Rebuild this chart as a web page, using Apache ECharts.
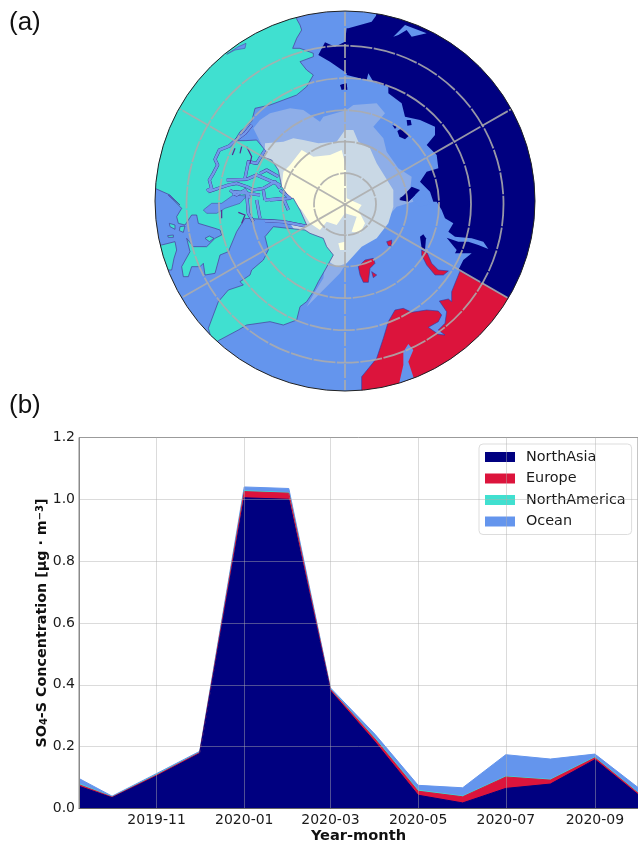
<!DOCTYPE html>
<html><head><meta charset="utf-8">
<style>html,body{margin:0;padding:0;background:#fff}#c{width:638px;height:842px}</style>
<script src="https://cdn.jsdelivr.net/npm/echarts@6/dist/echarts.min.js"></script>
</head><body><div id="c"></div>
<script>
// ---------- panel (b) data ----------
const dates = ['2019-09-08','2019-10-01','2019-11-01','2019-12-01','2020-01-01','2020-02-01','2020-03-01','2020-04-01','2020-05-01','2020-06-01','2020-07-01','2020-08-01','2020-09-01','2020-10-01'];
const northAsiaValues    = [0.072,0.035,0.105,0.178,1.005,1.000,0.380,0.215,0.043,0.018,0.065,0.079,0.158,0.045];
const europeValues       = [0.005,0.002,0.003,0.003,0.020,0.020,0.005,0.010,0.013,0.020,0.037,0.013,0.006,0.005];
const northAmericaValues = [0.003,0.001,0.002,0.001,0.003,0.002,0.001,0.003,0.003,0.002,0.002,0.002,0.002,0.002];
const oceanValues        = [0.017,0.002,0.003,0.003,0.012,0.013,0.004,0.012,0.016,0.027,0.070,0.066,0.010,0.016];
const monthTicks = ['2019-11-01','2020-01-01','2020-03-01','2020-05-01','2020-07-01','2020-09-01'];
const colors = {NorthAsia:'#000080',Europe:'#DC143C',NorthAmerica:'#40E0D0',Ocean:'#6495ED'};
const toMs = d=>Date.UTC(+d.slice(0,4),+d.slice(5,7)-1,+d.slice(8,10));

// ---------- panel (a) outlines, traced in reference units ----------
const tile = (ox,oy,pts)=>pts.map(([x,y])=>[ox+x/3,oy+y/3]);
const iceOuter = [[...tile(150,5,[[310,370],[330,345],[360,325],[420,310],[460,315],[510,350],[520,335],[590,315]]),
  ...tile(340,5,[[40,300],[110,295],[135,325],[100,365],[130,400],[140,440],[175,490],[215,515],[210,560],[220,590]]),
  ...tile(340,195,[[170,35],[130,80],[85,130],[40,170],[0,235]]),
  ...tile(150,195,[[470,335],[495,290],[520,250],[525,210],[450,100]]),
  ...tile(150,5,[[350,450]])]];
const iceMiddle = [tile(230,100,[[105,130],[160,125],[190,115],[220,120],[265,130],[320,125],[345,90],[370,90],[385,125],[420,145],[440,190],[490,270],[490,320],[475,370],[440,415],[395,440],[350,490],[320,500],[290,480],[200,400],[100,250]])];
const iceInner = [tile(230,100,[[160,215],[180,195],[215,150],[250,170],[300,165],[335,150],[348,200],[350,295],[395,315],[385,330],[405,370],[390,400],[365,395],[380,350],[345,340],[320,375],[290,365],[270,390],[240,370],[215,330],[170,290],[155,260]]),
  tile(230,100,[[325,430],[345,425],[345,450],[330,450]])];
const northAmericaLand = [[
  ...tile(150,5,[[440,-40],[440,42],[450,60],[455,75],[440,100],[428,130],[450,130],[490,145],[490,155],[450,170],[470,195],[490,210],[470,245],[440,270],[400,285],[360,300],[315,310],[305,350],[270,380],[255,405]]),
  ...tile(150,120,[[255,62],[285,62],[320,60],[345,90],[335,110],[365,120],[385,150],[395,200],[420,235]]),
  ...tile(150,190,[[430,25],[450,60],[470,105],[400,93],[345,88]]),
  ...tile(150,195,[[285,70],[260,110],[235,170],[210,180],[195,235],[165,240],[160,205],[150,215],[125,215],[115,245],[100,245],[95,215],[120,170],[110,130],[130,155],[170,155],[195,130],[215,120],[210,105],[195,100],[145,85],[140,60],[125,60],[105,90],[85,85],[80,65],[95,40],[55,0]]),
  ...tile(150,5,[[90,600],[60,570],[15,550],[-60,500],[-60,-40]])],
  tile(150,195,[[-30,150],[35,150],[75,140],[80,165],[72,190],[65,225],[55,225],[20,260]]),
  tile(150,190,[[58,100],[75,105],[75,118],[60,110]]),
  tile(150,190,[[53,137],[70,135],[70,142],[55,142]]),
  tile(150,190,[[90,110],[105,108],[100,127],[88,122]]),
  tile(150,190,[[165,145],[178,138],[192,145],[178,155]]),
  tile(150,195,[[175,400],[205,320],[235,285],[280,270],[270,260],[300,240],[305,225],[340,195],[355,165],[345,125],[370,95],[415,100],[465,105],[480,115],[520,130],[530,155],[550,180],[525,225],[505,260],[490,290],[470,320],[450,335],[440,375],[400,390],[360,380],[290,390],[265,405],[205,437],[190,450]])
];
const waterInLand = [
  tile(150,5,[[230,148],[265,125],[288,115],[285,130],[255,135]]),
  tile(150,190,[[160,60],[185,40],[215,40],[250,15],[290,18],[270,40],[225,55],[200,70],[170,70]])
];
const channels = [
  tile(150,120,[[305,15],[285,40],[255,62],[238,78],[208,90],[195,118],[203,135],[190,160],[178,180],[185,205],[170,212]]),
  tile(150,120,[[345,90],[320,130],[295,125],[290,150],[285,175]]),
  tile(150,120,[[230,180],[290,178],[320,165],[390,195]]),
  tile(150,120,[[175,215],[235,195],[260,190],[290,200],[310,210],[340,205],[375,185],[390,205]]),
  tile(150,120,[[240,210],[260,225],[285,210],[300,235]]),
  tile(150,120,[[330,160],[350,150],[385,170]]),
  tile(150,120,[[340,210],[345,240]]),
  tile(150,120,[[390,210],[420,235],[360,240]]),
  tile(150,190,[[290,10],[295,70],[310,95]]),
  tile(150,190,[[320,30],[330,85]]),
  tile(150,190,[[345,92],[400,95],[465,108]]),
  tile(150,190,[[345,30],[400,25],[415,60]]),
  tile(150,190,[[250,15],[255,5],[330,15]])
];
const inletLines = [
  tile(150,120,[[275,80],[270,100]]),
  tile(150,120,[[255,85],[247,105]]),
  tile(150,120,[[290,80],[305,110],[300,130]]),
  tile(150,190,[[265,67],[285,75],[275,100]]),
  tile(150,190,[[215,60],[215,85]])
];
const northAsiaLand = [[
  ...tile(340,5,[[120,-40],[108,32],[95,50],[60,60],[25,70]]),
  ...tile(150,5,[[590,70],[585,110],[555,125],[525,112],[505,150],[540,170],[590,205]]),
  ...tile(340,5,[[20,210],[80,225],[85,205],[100,230],[145,245],[145,265],[185,295],[195,335],[240,345],[285,365],[285,390],[260,420],[290,450],[295,490],[260,500],[240,530],[270,560],[280,590]]),
  ...tile(340,195,[[290,20],[305,45],[315,70],[340,85],[325,110],[345,125],[395,130],[430,140],[445,162],[415,150],[385,140],[355,140],[320,128],[350,165],[345,175],[395,175],[370,195],[355,225],[360,228],[505,310],[700,420],[700,-300]])],
  tile(340,5,[[0,240],[18,235],[22,250],[5,255]]),
  tile(150,5,[[572,240],[590,235],[592,255],[578,252]]),
  tile(340,5,[[200,345],[212,345],[215,360],[202,362]]),
  tile(340,5,[[157,360],[170,365],[165,372]]),
  tile(340,5,[[172,378],[185,370],[207,392],[195,403],[178,395]]),
  tile(340,5,[[178,585],[215,545],[240,555],[205,590]]),
  tile(340,195,[[178,10],[195,0],[225,0],[205,20]]),
  tile(340,195,[[240,125],[250,118],[258,130],[255,165],[245,160]])
];
const waterInAsia = [
  tile(340,5,[[160,95],[195,60],[260,85],[215,95],[200,75],[175,90]]),
  tile(340,5,[[225,592],[250,568],[272,598],[240,605]])
];
const europeLand = [
  tile(340,195,[[360,228],[505,310],[700,420],[300,640],[60,640],[65,582],[65,545],[110,490],[130,430],[145,380],[165,345],[190,340],[215,352],[260,345],[295,348],[305,360],[295,380],[265,397],[295,418],[315,420],[295,405],[315,385],[320,350],[298,318],[325,312],[335,320],[335,290],[345,265]]),
  tile(340,195,[[55,215],[75,195],[100,190],[105,205],[90,220],[85,262],[70,262],[60,240]]),
  tile(340,195,[[95,230],[110,240],[100,248]]),
  tile(340,195,[[140,140],[155,135],[155,152],[145,152]]),
  tile(340,195,[[245,165],[262,175],[275,205],[295,225],[325,228],[310,240],[285,240],[260,210],[245,180]])
];
const waterInEurope = [tile(340,195,[[190,470],[205,447],[220,465],[205,500],[225,560],[175,575],[190,510]])];
const pole = [345,204.2];
const ringRadii = [31,62.5,94,126,158.5];
const spokes = [[[345,12],[345,390]],[[pole[0],pole[1]],[511.5,109]],[[pole[0],pole[1]],[508,298]],[[pole[0],pole[1]],[183,297]],[[pole[0],pole[1]],[180,109]]];
const discCentre = [345,201], discRadius = 190;

// ---------- helpers ----------
function discClip(api){
  const c = api.coord(discCentre);
  return {type:'circle',shape:{cx:c[0],cy:c[1],r:api.size([discRadius,0])[0]}};
}
function shapes(items,kind,style){
  return {type:'custom',xAxisIndex:0,yAxisIndex:0,silent:true,animation:false,z:3,
    data:items.map((_,i)=>[i]),
    renderItem(p,api){
      const pts = items[api.value(0)].map(q=>api.coord(q));
      return {type:kind,shape:{points:pts},style:Object.assign({},style),clipPath:discClip(api)};
    }};
}
const gridStroke = 'rgba(172,172,172,0.88)';
const ringsSeries = {type:'custom',xAxisIndex:0,yAxisIndex:0,silent:true,animation:false,z:4,
  data:ringRadii.map((_,i)=>[i]),
  renderItem(p,api){
    const c = api.coord(pole);
    return {type:'circle',shape:{cx:c[0],cy:c[1],r:api.size([ringRadii[api.value(0)],0])[0]},
      style:{fill:'none',stroke:gridStroke,lineWidth:1.8,lineDash:[22,1.5]},clipPath:discClip(api)};
  }};
const spokeSeries = {type:'custom',xAxisIndex:0,yAxisIndex:0,silent:true,animation:false,z:4,
  data:spokes.map((_,i)=>[i]),
  renderItem(p,api){
    const s = spokes[api.value(0)], a = api.coord(s[0]), b = api.coord(s[1]);
    return {type:'line',shape:{x1:a[0],y1:a[1],x2:b[0],y2:b[1]},
      style:{stroke:gridStroke,lineWidth:1.8,lineDash:api.value(0)===0?[14,2]:[30,1.5]},clipPath:discClip(api)};
  }};
const discSeries = edge=>({type:'custom',xAxisIndex:0,yAxisIndex:0,silent:true,animation:false,z:edge?5:2,data:[[0]],
  renderItem(p,api){
    const c = discClip(api);
    return {type:'circle',shape:c.shape,style:edge?{fill:'none',stroke:'#222',lineWidth:1}:{fill:colors.Ocean}};
  }});

// each band is painted from zero up to its running total, top band first
const layers = [['NorthAsia',northAsiaValues],['Europe',europeValues],['NorthAmerica',northAmericaValues],['Ocean',oceanValues]];
const running = dates.map(()=>0);
const areaSeries = layers.map(([name,vals])=>{
  const tops = vals.map((v,i)=>(running[i]+=v));
  return {name,type:'line',xAxisIndex:1,yAxisIndex:1,symbol:'none',animation:false,
    lineStyle:{color:colors[name],width:1},itemStyle:{color:colors[name]},areaStyle:{color:colors[name],opacity:1},
    data:tops.map((v,i)=>[toMs(dates[i]),v]),z:2};
}).reverse();

const tickFont = {fontFamily:'DejaVu Sans',fontSize:14,color:'#1a1a1a'};
const gridLine = {show:true,lineStyle:{color:'rgba(176,176,176,0.45)',width:1}};
const pad = n=>String(n).padStart(2,'0');
const tickMs = monthTicks.map(toMs);
const chart = echarts.init(document.getElementById('c'),null,{renderer:'canvas'});
chart.setOption({
  animation:false,
  backgroundColor:'#fff',
  title:[
    {text:'(a)',left:9,top:10,padding:0,textStyle:{fontFamily:'Liberation Sans',fontSize:26,fontWeight:'normal',color:'#111'}},
    {text:'(b)',left:9,top:393,padding:0,textStyle:{fontFamily:'Liberation Sans',fontSize:26,fontWeight:'normal',color:'#111'}}
  ],
  grid:[
    {left:155,top:12,width:380,height:378,show:false,outerBoundsMode:'none'},
    {left:79,top:437.5,width:559,height:371,show:true,borderColor:'#8a8a8a',borderWidth:1,backgroundColor:'#fff',outerBoundsMode:'none'}
  ],
  legend:{left:479,top:444,orient:'vertical',padding:[6,6,6,6],itemWidth:30,itemHeight:10,itemGap:7.5,
    backgroundColor:'rgba(255,255,255,0.85)',borderColor:'#ddd',borderWidth:1,borderRadius:4,
    textStyle:{fontFamily:'DejaVu Sans',fontSize:14.4,color:'#1a1a1a',padding:[0,0,0,6]},icon:'rect',
    data:layers.map(l=>l[0])},
  xAxis:[
    {gridIndex:0,type:'value',min:155,max:535,show:false},
    {gridIndex:1,type:'value',min:toMs(dates[0]),max:toMs(dates[dates.length-1]),z:6,
      axisLine:{show:true,onZero:false,lineStyle:{color:'#666',width:1}},
      axisTick:{show:false,customValues:tickMs},
      splitLine:Object.assign({customValues:tickMs},gridLine),
      axisLabel:{...tickFont,margin:5,customValues:tickMs,
        formatter:v=>{const d=new Date(v);return d.getUTCFullYear()+'-'+pad(d.getUTCMonth()+1);}},
      name:'Year-month',nameLocation:'middle',nameGap:20,nameMoveOverlap:false,
      nameTextStyle:{fontFamily:'DejaVu Sans',fontSize:14.6,fontWeight:'bold',color:'#111'}}
  ],
  yAxis:[
    {gridIndex:0,type:'value',min:12,max:390,inverse:true,show:false},
    {gridIndex:1,type:'value',min:0,max:1.2,interval:0.2,z:6,
      axisLine:{show:true,lineStyle:{color:'#8a8a8a',width:1}},axisTick:{show:false},
      splitLine:gridLine,
      axisLabel:{...tickFont,margin:4,formatter:v=>v.toFixed(1)},
      name:'{b|SO}{s|4}{b|-S Concentration [μg · m}{u|−3}{b|]}',nameLocation:'middle',nameGap:30,nameRotate:90,nameMoveOverlap:false,
      nameTextStyle:{rich:{
        b:{fontFamily:'DejaVu Sans',fontSize:14.3,fontWeight:'bold',color:'#111'},
        s:{fontFamily:'DejaVu Sans',fontSize:10,fontWeight:'bold',color:'#111',verticalAlign:'bottom'},
        u:{fontFamily:'DejaVu Sans',fontSize:10,fontWeight:'bold',color:'#111',verticalAlign:'top'}}}}
  ],
  series:[
    discSeries(false),
    shapes(iceOuter,'polygon',{fill:'#8EAEE8'}),
    shapes(iceMiddle,'polygon',{fill:'#C9D8E5'}),
    shapes(iceInner,'polygon',{fill:'#FFFFE0'}),
    shapes(northAmericaLand,'polygon',{fill:colors.NorthAmerica,stroke:'#4a3a9a',lineWidth:0.7}),
    shapes(waterInLand,'polygon',{fill:colors.Ocean,stroke:'#4a3a9a',lineWidth:0.5}),
    shapes(channels,'polyline',{fill:'none',stroke:'#3f2f90',lineWidth:3.2,lineJoin:'round'}),
    shapes(channels,'polyline',{fill:'none',stroke:'#7398ea',lineWidth:2.5,lineJoin:'round'}),
    shapes(inletLines,'polyline',{fill:'none',stroke:'#5a2a90',lineWidth:1.2}),
    shapes(northAsiaLand,'polygon',{fill:colors.NorthAsia}),
    shapes(waterInAsia,'polygon',{fill:colors.Ocean}),
    shapes(europeLand,'polygon',{fill:colors.Europe,stroke:'#2a3aa8',lineWidth:0.6}),
    shapes(waterInEurope,'polygon',{fill:colors.Ocean}),
    ringsSeries,spokeSeries,discSeries(true),
    ...areaSeries
  ]
});
</script></body></html>
